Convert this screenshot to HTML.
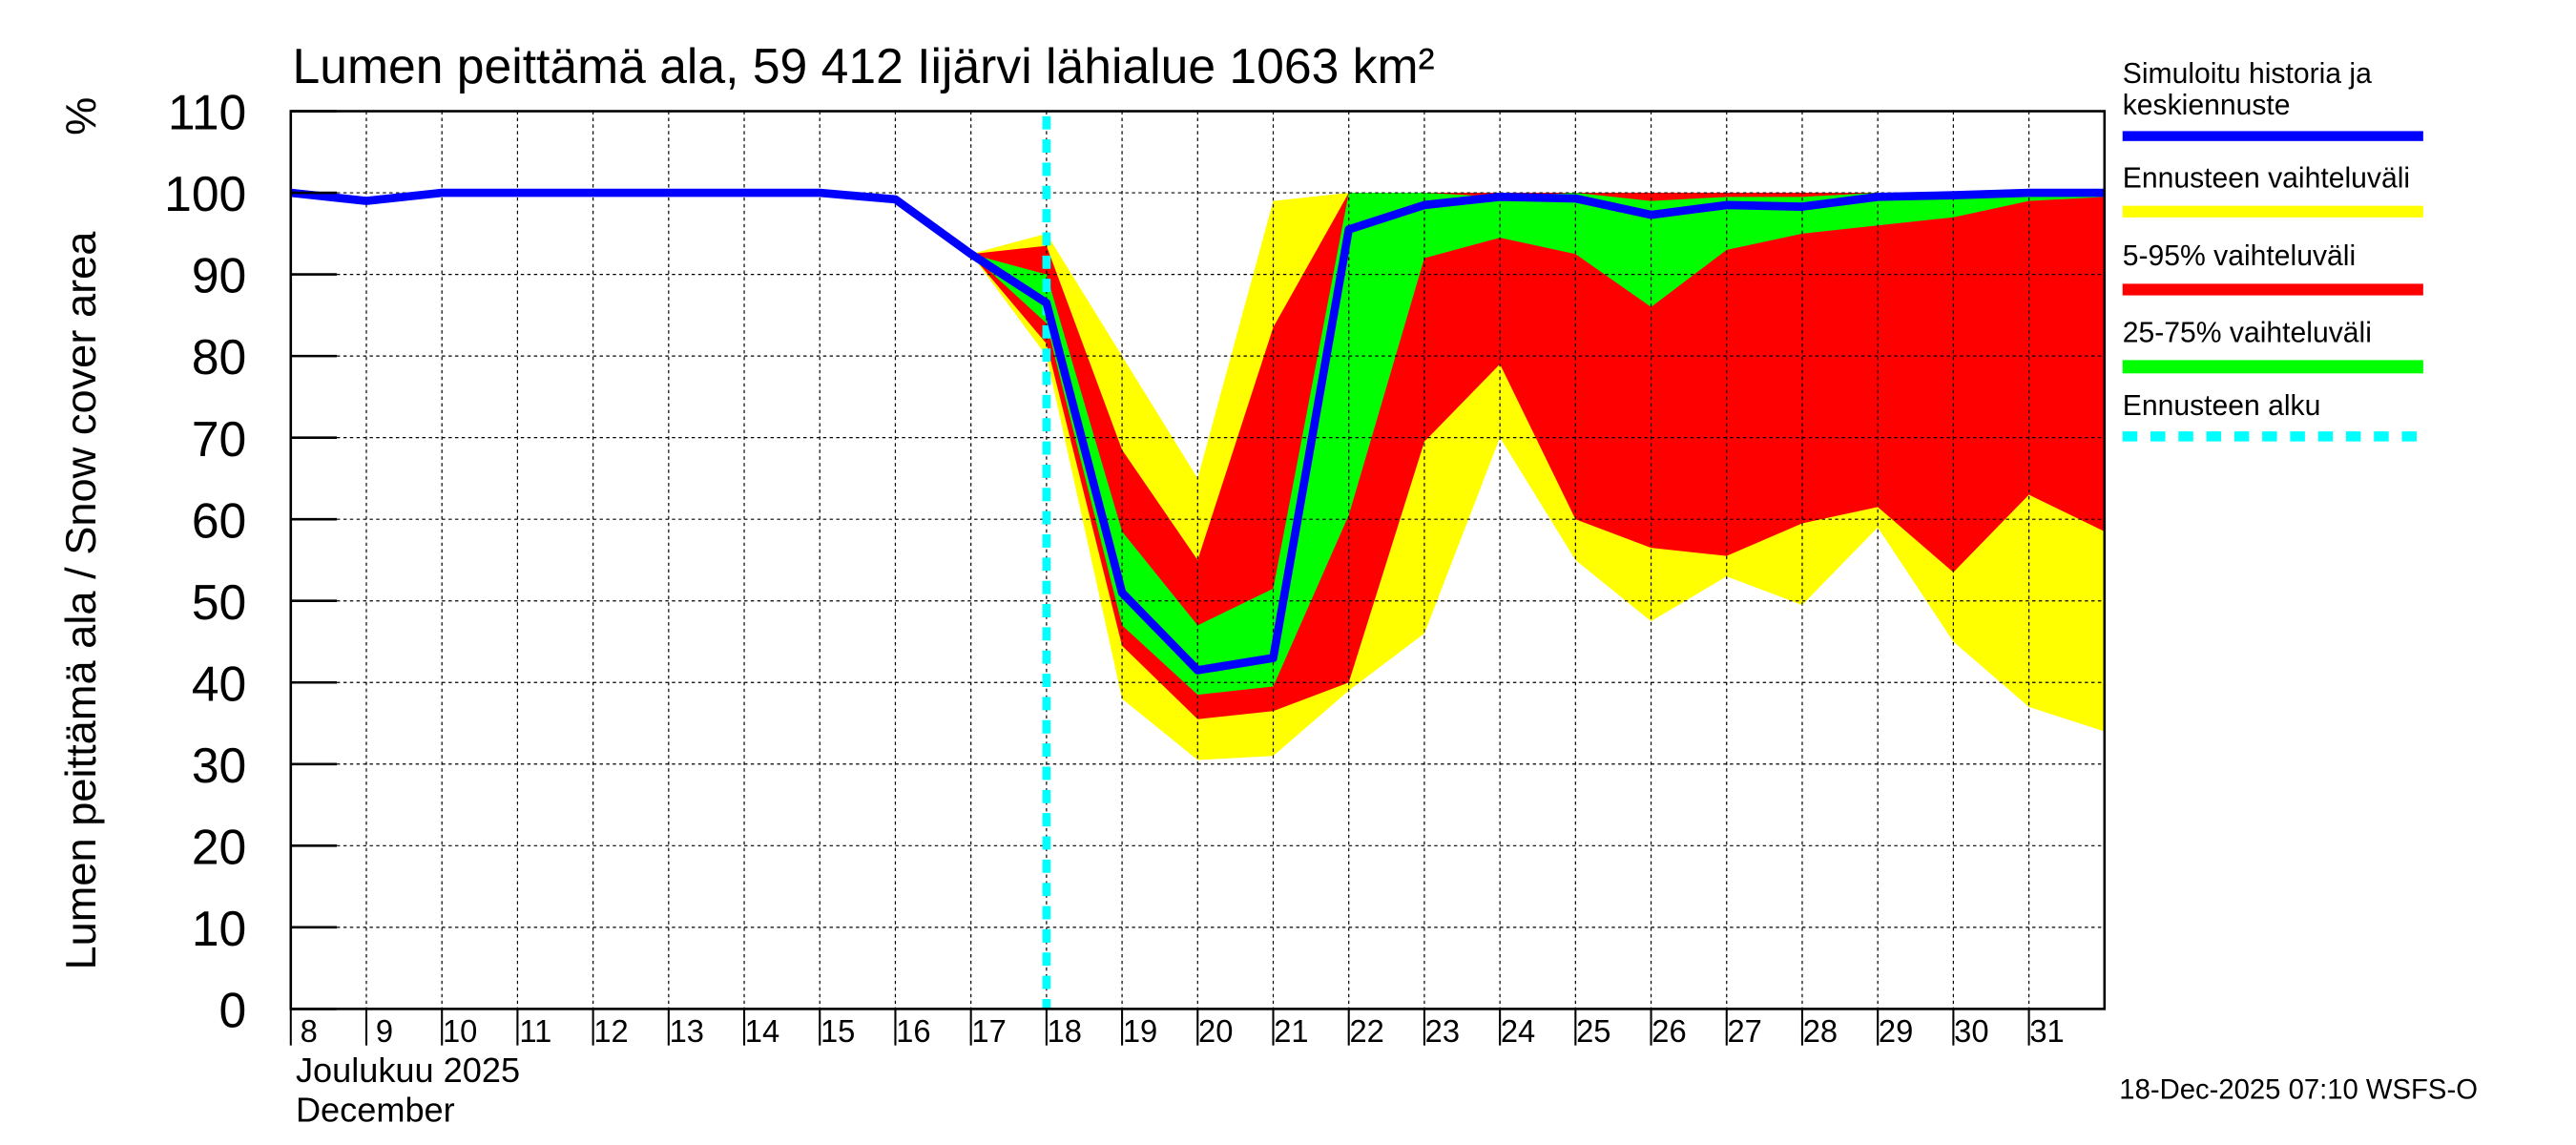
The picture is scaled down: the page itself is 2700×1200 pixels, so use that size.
<!DOCTYPE html>
<html><head><meta charset="utf-8"><style>html,body{margin:0;padding:0;background:#fff}svg{display:block}text{font-family:"Liberation Sans",sans-serif}</style></head>
<body>
<svg id="chart" width="2700" height="1200" viewBox="0 0 1568 690" preserveAspectRatio="none" xmlns="http://www.w3.org/2000/svg">
<rect width="1568" height="690" fill="#fff"/>
<g id="bands"></g>
<g id="grid"></g>
<g id="lines"></g>
<rect x="177" y="67" width="1104" height="541" fill="none" stroke="#000" stroke-width="1.5"/>
<g id="axes"></g>
<text x="178" y="50" font-size="30">Lumen peittämä ala, 59 412 Iijärvi lähialue 1063 km²</text>
<text transform="translate(58,362) rotate(-90)" text-anchor="middle" font-size="26">Lumen peittämä ala / Snow cover area</text>
<text transform="translate(58,70) rotate(-90)" text-anchor="middle" font-size="26">%</text>
<text x="180" y="652" font-size="21">Joulukuu  2025</text>
<text x="180" y="676" font-size="21">December</text>
<text x="1290" y="662" font-size="17">18-Dec-2025 07:10 WSFS-O</text>
<g font-size="17.5">
<text x="1292" y="50">Simuloitu historia ja</text>
<text x="1292" y="69">keskiennuste</text>
<rect x="1292" y="79" width="183" height="6" fill="#0000ff"/>
<text x="1292" y="113">Ennusteen vaihteluväli</text>
<rect x="1292" y="124" width="183" height="7" fill="#ffff00"/>
<text x="1292" y="160">5-95% vaihteluväli</text>
<rect x="1292" y="171" width="183" height="7" fill="#ff0000"/>
<text x="1292" y="206">25-75% vaihteluväli</text>
<rect x="1292" y="217" width="183" height="8" fill="#00ff00"/>
<text x="1292" y="250">Ennusteen alku</text>
<line x1="1292" y1="263" x2="1475" y2="263" stroke="#00ffff" stroke-width="6" stroke-dasharray="9,8"/>
</g>
</svg>
<script>
const days=[8,9,10,11,12,13,14,15,16,17,18,19,20,21,22,23,24,25,26,27,28,29,30,31,32];
const median=[100,99,100,100,100,100,100,100,99.2,92.5,86.5,51,41.5,43,95.5,98.5,99.5,99.3,97.3,98.5,98.3,99.5,99.7,100,100];
const fDays=[17,18,19,20,21,22,23,24,25,26,27,28,29,30,31,32];
const yelHi=[92.5,95,80,65,99,100,100,100,100,100,100,100,100,100,100,100];
const yelLo=[92.5,80,38,30.5,31,39,46,70,55,47.5,53,49.5,59,45,37,34];
const redHi=[92.5,93.5,68.5,55,83.5,100,100,100,100,100,100,100,100,100,99.5,99.5];
const redLo=[92.5,81.5,44.5,35.5,36.5,40,69.5,79,60,56.5,55.5,59.5,61.5,53.5,63,58.5];
const grnHi=[92.5,90,58.5,47,51.5,100,100,99.5,100,99,99.5,99.5,100,100,100,100];
const grnLo=[92.5,84,47,38.5,39.5,60.5,92,94.5,92.5,86,93,95,96,97,99,99.5];
const yTicks=[0,10,20,30,40,50,60,70,80,90,100,110];
const xLabels=[8,9,10,11,12,13,14,15,16,17,18,19,20,21,22,23,24,25,26,27,28,29,30,31];
const forecastStart=18;
const NS="http://www.w3.org/2000/svg";
const X=d=>177+(d-8)*46, Y=v=>608-v*541/110;
function mk(t,a,p){const e=document.createElementNS(NS,t);for(const k in a)e.setAttribute(k,a[k]);document.getElementById(p).appendChild(e);return e;}
function band(hi,lo,col,name){let pts=fDays.map((d,i)=>X(d)+","+Y(hi[i]));for(let i=fDays.length-1;i>=0;i--)pts.push(X(fDays[i])+","+Y(lo[i]));
const e=mk('polygon',{points:pts.join(' '),fill:col},'bands');

}
band(yelHi,yelLo,'#ffff00','range-band-full');
band(redHi,redLo,'#ff0000','range-band-5-95');
band(grnHi,grnLo,'#00ff00','range-band-25-75');
yTicks.forEach(v=>{if(v>0&&v<110){const g=mk('line',{x1:177,x2:1281,y1:Y(v),y2:Y(v),stroke:'#000','stroke-width':0.7,'stroke-dasharray':'2,2'},'grid');

}
const t=mk('line',{x1:177,x2:205,y1:Y(v),y2:Y(v),stroke:'#000','stroke-width':1.5},'axes');


const l=mk('text',{x:150,y:Y(v)+11,'text-anchor':'end','font-size':30},'axes');l.textContent=v;

});
xLabels.forEach(d=>{if(d>8){const g=mk('line',{x1:X(d),x2:X(d),y1:67,y2:608,stroke:'#000','stroke-width':0.7,'stroke-dasharray':'2,2'},'grid');

}
const t=mk('line',{x1:X(d),x2:X(d),y1:608,y2:630,stroke:'#000','stroke-width':1.2},'axes');


const l=mk('text',{x:X(d)+11,y:628,'text-anchor':'middle','font-size':19},'axes');l.textContent=d;

});
const fl=mk('line',{x1:X(forecastStart),x2:X(forecastStart),y1:70,y2:608,stroke:'#00ffff','stroke-width':5,'stroke-dasharray':'8,6'},'lines');


const ml=mk('polyline',{points:days.map((d,i)=>X(d)+","+Y(median[i])).join(' '),fill:'none',stroke:'#0000ff','stroke-width':5,'stroke-linejoin':'round'},'lines');


</script>
</body></html>
